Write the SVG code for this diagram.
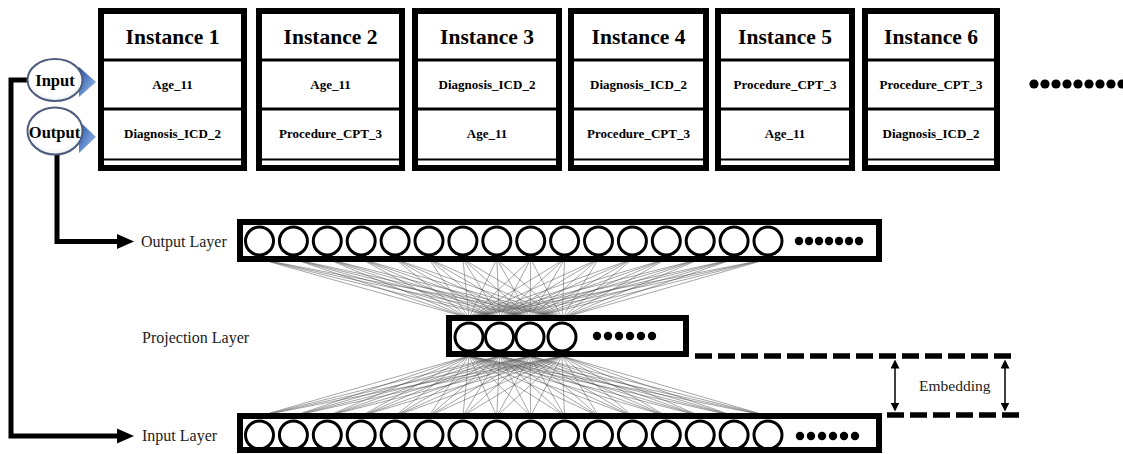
<svg xmlns="http://www.w3.org/2000/svg" xmlns:xlink="http://www.w3.org/1999/xlink" width="1123" height="454" viewBox="0 0 1123 454">
  <style>
    .box { fill: #ffffff; stroke: #000000; stroke-width: 6; }
    .div { stroke: #000000; stroke-width: 3; }
    .thin { stroke: #000000; stroke-width: 2; }
    .title { font-family: "Liberation Serif", "Times New Roman", serif; font-weight: bold; font-size: 21.5px; text-anchor: middle; fill: #000; }
    .cell { font-family: "Liberation Serif", "Times New Roman", serif; font-weight: bold; font-size: 13px; text-anchor: middle; fill: #000; }
    .lbl { font-family: "Liberation Serif", "Times New Roman", serif; font-size: 16px; fill: #222; }
    .tag { font-family: "Liberation Serif", "Times New Roman", serif; font-weight: bold; font-size: 16.5px; text-anchor: middle; fill: #000; }
    .layer { fill: #ffffff; stroke: #000000; stroke-width: 6; }
    .n { fill: none; stroke: #000000; stroke-width: 3; }
    .dot { fill: #000000; }
    .wire { stroke: #555555; stroke-width: 0.7; stroke-opacity: 0.75; fill: none; }
    .flow { stroke: #000000; stroke-width: 5; fill: none; }
    .dash { stroke: #000000; stroke-width: 5.5; stroke-dasharray: 17 6; fill: none; }
    .bubble { fill: url(#bubbleFill); stroke: #4f5d7c; stroke-width: 2; }
  </style>
  <defs>
    <linearGradient id="triFill" x1="0" y1="0" x2="1" y2="1">
      <stop offset="0" stop-color="#1d4ea6"/>
      <stop offset="1" stop-color="#a8c8f2"/>
    </linearGradient>
    <radialGradient id="bubbleFill" cx="0.5" cy="0.45" r="0.6">
      <stop offset="0.7" stop-color="#ffffff"/>
      <stop offset="1" stop-color="#e4e8f0"/>
    </radialGradient>
    <marker id="tip" viewBox="0 0 10 10" refX="5" refY="5" markerWidth="6" markerHeight="6" orient="auto-start-reverse">
      <path d="M0,0 L10,5 L0,10 z" fill="#000"/>
    </marker>
  </defs>

  <rect width="1123" height="454" fill="#ffffff"/>

  <!-- training instances -->
  <g id="instance-1" transform="translate(98,0)">
    <rect class="box" x="3" y="11" width="143" height="157"/>
    <line class="div" x1="3" y1="60" x2="146" y2="60"/>
    <line class="div" x1="3" y1="109" x2="146" y2="109"/>
    <line class="thin" x1="3" y1="159.5" x2="146" y2="159.5"/>
    <text class="title" x="74.5" y="44">Instance 1</text>
    <text class="cell" x="74.5" y="89">Age_11</text>
    <text class="cell" x="74.5" y="138">Diagnosis_ICD_2</text>
  </g>
  <g id="instance-2" transform="translate(256,0)">
    <rect class="box" x="3" y="11" width="143" height="157"/>
    <line class="div" x1="3" y1="60" x2="146" y2="60"/>
    <line class="div" x1="3" y1="109" x2="146" y2="109"/>
    <line class="thin" x1="3" y1="159.5" x2="146" y2="159.5"/>
    <text class="title" x="74.5" y="44">Instance 2</text>
    <text class="cell" x="74.5" y="89">Age_11</text>
    <text class="cell" x="74.5" y="138">Procedure_CPT_3</text>
  </g>
  <g id="instance-3" transform="translate(412,0)">
    <rect class="box" x="3" y="11" width="144" height="157"/>
    <line class="div" x1="3" y1="60" x2="147" y2="60"/>
    <line class="div" x1="3" y1="109" x2="147" y2="109"/>
    <line class="thin" x1="3" y1="159.5" x2="147" y2="159.5"/>
    <text class="title" x="75" y="44">Instance 3</text>
    <text class="cell" x="75" y="89">Diagnosis_ICD_2</text>
    <text class="cell" x="75" y="138">Age_11</text>
  </g>
  <g id="instance-4" transform="translate(568,0)">
    <rect class="box" x="3" y="11" width="135" height="157"/>
    <line class="div" x1="3" y1="60" x2="138" y2="60"/>
    <line class="div" x1="3" y1="109" x2="138" y2="109"/>
    <line class="thin" x1="3" y1="159.5" x2="138" y2="159.5"/>
    <text class="title" x="70.5" y="44">Instance 4</text>
    <text class="cell" x="70.5" y="89">Diagnosis_ICD_2</text>
    <text class="cell" x="70.5" y="138">Procedure_CPT_3</text>
  </g>
  <g id="instance-5" transform="translate(715,0)">
    <rect class="box" x="3" y="11" width="134" height="157"/>
    <line class="div" x1="3" y1="60" x2="137" y2="60"/>
    <line class="div" x1="3" y1="109" x2="137" y2="109"/>
    <line class="thin" x1="3" y1="159.5" x2="137" y2="159.5"/>
    <text class="title" x="70" y="44">Instance 5</text>
    <text class="cell" x="70" y="89">Procedure_CPT_3</text>
    <text class="cell" x="70" y="138">Age_11</text>
  </g>
  <g id="instance-6" transform="translate(862,0)">
    <rect class="box" x="3" y="11" width="132" height="157"/>
    <line class="div" x1="3" y1="60" x2="135" y2="60"/>
    <line class="div" x1="3" y1="109" x2="135" y2="109"/>
    <line class="thin" x1="3" y1="159.5" x2="135" y2="159.5"/>
    <text class="title" x="69" y="44">Instance 6</text>
    <text class="cell" x="69" y="89">Procedure_CPT_3</text>
    <text class="cell" x="69" y="138">Diagnosis_ICD_2</text>
  </g>
  <g id="more-instances">
    <circle class="dot" cx="1034" cy="84" r="4.6"/>
    <circle class="dot" cx="1045" cy="84" r="4.6"/>
    <circle class="dot" cx="1056" cy="84" r="4.6"/>
    <circle class="dot" cx="1067" cy="84" r="4.6"/>
    <circle class="dot" cx="1078" cy="84" r="4.6"/>
    <circle class="dot" cx="1089" cy="84" r="4.6"/>
    <circle class="dot" cx="1100" cy="84" r="4.6"/>
    <circle class="dot" cx="1111" cy="84" r="4.6"/>
    <circle class="dot" cx="1122" cy="84" r="4.6"/>
  </g>

  <!-- connectors -->
  <g id="connectors">
    <!-- fully connected weights: output layer to projection layer -->
    <path class="wire" d="
      M259.5,259 L469,318 M259.5,259 L499.5,318 M259.5,259 L530,318 M259.5,259 L562,318
      M293.4,259 L469,318 M293.4,259 L499.5,318 M293.4,259 L530,318 M293.4,259 L562,318
      M327.3,259 L469,318 M327.3,259 L499.5,318 M327.3,259 L530,318 M327.3,259 L562,318
      M361.2,259 L469,318 M361.2,259 L499.5,318 M361.2,259 L530,318 M361.2,259 L562,318
      M395.1,259 L469,318 M395.1,259 L499.5,318 M395.1,259 L530,318 M395.1,259 L562,318
      M429,259 L469,318 M429,259 L499.5,318 M429,259 L530,318 M429,259 L562,318
      M462.9,259 L469,318 M462.9,259 L499.5,318 M462.9,259 L530,318 M462.9,259 L562,318
      M496.8,259 L469,318 M496.8,259 L499.5,318 M496.8,259 L530,318 M496.8,259 L562,318
      M530.7,259 L469,318 M530.7,259 L499.5,318 M530.7,259 L530,318 M530.7,259 L562,318
      M564.6,259 L469,318 M564.6,259 L499.5,318 M564.6,259 L530,318 M564.6,259 L562,318
      M598.5,259 L469,318 M598.5,259 L499.5,318 M598.5,259 L530,318 M598.5,259 L562,318
      M632.4,259 L469,318 M632.4,259 L499.5,318 M632.4,259 L530,318 M632.4,259 L562,318
      M666.3,259 L469,318 M666.3,259 L499.5,318 M666.3,259 L530,318 M666.3,259 L562,318
      M700.2,259 L469,318 M700.2,259 L499.5,318 M700.2,259 L530,318 M700.2,259 L562,318
      M734.1,259 L469,318 M734.1,259 L499.5,318 M734.1,259 L530,318 M734.1,259 L562,318
      M768,259 L469,318 M768,259 L499.5,318 M768,259 L530,318 M768,259 L562,318"/>
    <!-- fully connected weights: projection layer to input layer -->
    <path class="wire" d="
      M259.5,416 L469,356 M259.5,416 L499.5,356 M259.5,416 L530,356 M259.5,416 L562,356
      M293.4,416 L469,356 M293.4,416 L499.5,356 M293.4,416 L530,356 M293.4,416 L562,356
      M327.3,416 L469,356 M327.3,416 L499.5,356 M327.3,416 L530,356 M327.3,416 L562,356
      M361.2,416 L469,356 M361.2,416 L499.5,356 M361.2,416 L530,356 M361.2,416 L562,356
      M395.1,416 L469,356 M395.1,416 L499.5,356 M395.1,416 L530,356 M395.1,416 L562,356
      M429,416 L469,356 M429,416 L499.5,356 M429,416 L530,356 M429,416 L562,356
      M462.9,416 L469,356 M462.9,416 L499.5,356 M462.9,416 L530,356 M462.9,416 L562,356
      M496.8,416 L469,356 M496.8,416 L499.5,356 M496.8,416 L530,356 M496.8,416 L562,356
      M530.7,416 L469,356 M530.7,416 L499.5,356 M530.7,416 L530,356 M530.7,416 L562,356
      M564.6,416 L469,356 M564.6,416 L499.5,356 M564.6,416 L530,356 M564.6,416 L562,356
      M598.5,416 L469,356 M598.5,416 L499.5,356 M598.5,416 L530,356 M598.5,416 L562,356
      M632.4,416 L469,356 M632.4,416 L499.5,356 M632.4,416 L530,356 M632.4,416 L562,356
      M666.3,416 L469,356 M666.3,416 L499.5,356 M666.3,416 L530,356 M666.3,416 L562,356
      M700.2,416 L469,356 M700.2,416 L499.5,356 M700.2,416 L530,356 M700.2,416 L562,356
      M734.1,416 L469,356 M734.1,416 L499.5,356 M734.1,416 L530,356 M734.1,416 L562,356
      M768,416 L469,356 M768,416 L499.5,356 M768,416 L530,356 M768,416 L562,356"/>

    <!-- input word routed to the input layer -->
    <path class="flow" d="M28,80 L11,80 L11,436 L120,436"/>
    <polygon points="117,428.5 134,436 117,443.5" fill="#000"/>
    <!-- output word routed to the output layer -->
    <path class="flow" d="M57,152 L57,241.5 L120,241.5"/>
    <polygon points="117,234 134,241.5 117,249" fill="#000"/>

    <!-- embedding extent -->
    <line class="dash" x1="695" y1="356" x2="1012" y2="356"/>
    <line class="dash" x1="887" y1="415" x2="1020" y2="415"/>
    <line x1="895" y1="364" x2="895" y2="407" stroke="#000" stroke-width="1.5" marker-start="url(#tip)" marker-end="url(#tip)"/>
    <line x1="1005" y1="364" x2="1005" y2="407" stroke="#000" stroke-width="1.5" marker-start="url(#tip)" marker-end="url(#tip)"/>
  </g>

  <!-- input / output word callouts -->
  <g id="input-word">
    <polygon points="79,67 96,82 79,97" fill="url(#triFill)"/>
    <ellipse class="bubble" cx="55" cy="80" rx="27.5" ry="21"/>
    <text class="tag" x="55" y="86">Input</text>
  </g>
  <g id="output-word">
    <polygon points="79,121 96,137 79,153" fill="url(#triFill)"/>
    <ellipse class="bubble" cx="55" cy="131" rx="27.5" ry="23.5"/>
    <text class="tag" x="54.5" y="137.5">Output</text>
  </g>

  <!-- output layer -->
  <g id="output-layer">
    <text class="lbl" x="141" y="247">Output Layer</text>
    <rect class="layer" x="240" y="222" width="639" height="37"/>
    <circle class="n" cx="259.5" cy="241" r="14"/>
    <circle class="n" cx="293.4" cy="241" r="14"/>
    <circle class="n" cx="327.3" cy="241" r="14"/>
    <circle class="n" cx="361.2" cy="241" r="14"/>
    <circle class="n" cx="395.1" cy="241" r="14"/>
    <circle class="n" cx="429" cy="241" r="14"/>
    <circle class="n" cx="462.9" cy="241" r="14"/>
    <circle class="n" cx="496.8" cy="241" r="14"/>
    <circle class="n" cx="530.7" cy="241" r="14"/>
    <circle class="n" cx="564.6" cy="241" r="14"/>
    <circle class="n" cx="598.5" cy="241" r="14"/>
    <circle class="n" cx="632.4" cy="241" r="14"/>
    <circle class="n" cx="666.3" cy="241" r="14"/>
    <circle class="n" cx="700.2" cy="241" r="14"/>
    <circle class="n" cx="734.1" cy="241" r="14"/>
    <circle class="n" cx="768" cy="241" r="14"/>
    <circle class="dot" cx="799" cy="241" r="4.2"/>
    <circle class="dot" cx="809" cy="241" r="4.2"/>
    <circle class="dot" cx="819" cy="241" r="4.2"/>
    <circle class="dot" cx="829" cy="241" r="4.2"/>
    <circle class="dot" cx="839" cy="241" r="4.2"/>
    <circle class="dot" cx="849" cy="241" r="4.2"/>
    <circle class="dot" cx="859" cy="241" r="4.2"/>
  </g>

  <!-- projection layer -->
  <g id="projection-layer">
    <text class="lbl" x="142" y="343">Projection Layer</text>
    <rect class="layer" x="449" y="318" width="237" height="36"/>
    <circle class="n" cx="469" cy="337" r="14"/>
    <circle class="n" cx="499.5" cy="337" r="14"/>
    <circle class="n" cx="530" cy="337" r="14"/>
    <circle class="n" cx="562" cy="337" r="14"/>
    <circle class="dot" cx="597" cy="336" r="4.2"/>
    <circle class="dot" cx="608" cy="336" r="4.2"/>
    <circle class="dot" cx="619" cy="336" r="4.2"/>
    <circle class="dot" cx="630" cy="336" r="4.2"/>
    <circle class="dot" cx="641" cy="336" r="4.2"/>
    <circle class="dot" cx="652" cy="336" r="4.2"/>
  </g>
  <text class="lbl" x="919" y="391" style="font-size:15.5px">Embedding</text>

  <!-- input layer -->
  <g id="input-layer">
    <text class="lbl" x="142" y="441">Input Layer</text>
    <rect class="layer" x="240" y="416" width="639" height="34"/>
    <circle class="n" cx="259.5" cy="435" r="14"/>
    <circle class="n" cx="293.4" cy="435" r="14"/>
    <circle class="n" cx="327.3" cy="435" r="14"/>
    <circle class="n" cx="361.2" cy="435" r="14"/>
    <circle class="n" cx="395.1" cy="435" r="14"/>
    <circle class="n" cx="429" cy="435" r="14"/>
    <circle class="n" cx="462.9" cy="435" r="14"/>
    <circle class="n" cx="496.8" cy="435" r="14"/>
    <circle class="n" cx="530.7" cy="435" r="14"/>
    <circle class="n" cx="564.6" cy="435" r="14"/>
    <circle class="n" cx="598.5" cy="435" r="14"/>
    <circle class="n" cx="632.4" cy="435" r="14"/>
    <circle class="n" cx="666.3" cy="435" r="14"/>
    <circle class="n" cx="700.2" cy="435" r="14"/>
    <circle class="n" cx="734.1" cy="435" r="14"/>
    <circle class="n" cx="768" cy="435" r="14"/>
    <circle class="dot" cx="800" cy="436" r="4.2"/>
    <circle class="dot" cx="811" cy="436" r="4.2"/>
    <circle class="dot" cx="822" cy="436" r="4.2"/>
    <circle class="dot" cx="833" cy="436" r="4.2"/>
    <circle class="dot" cx="844" cy="436" r="4.2"/>
    <circle class="dot" cx="855" cy="436" r="4.2"/>
  </g>
</svg>
